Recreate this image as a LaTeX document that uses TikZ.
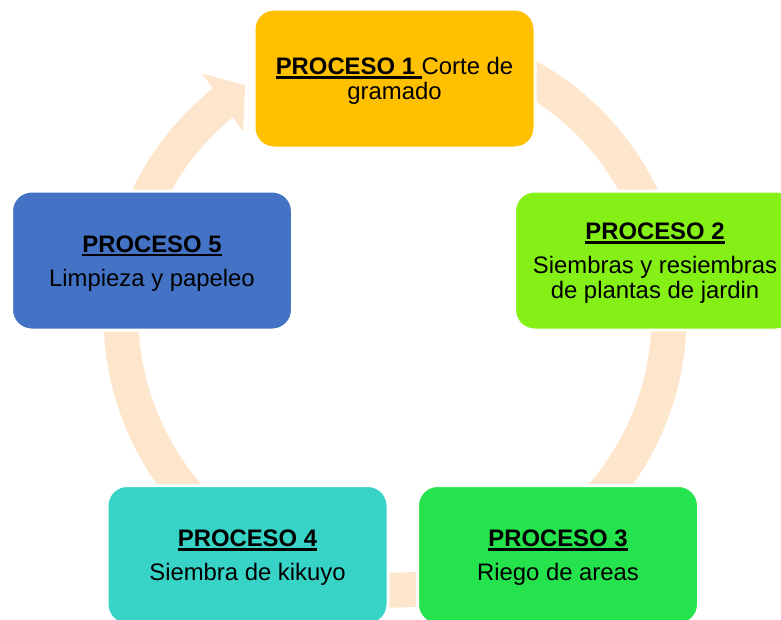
\documentclass[tikz,border=0pt]{standalone}
\usepackage{fontspec}
\setmainfont{Liberation Sans}
\usepackage{xcolor}
\usepackage{tikz}

\definecolor{ringpeach}{HTML}{FEE6CC}
\definecolor{procgold}{HTML}{FFC000}
\definecolor{proclime}{HTML}{85F016}
\definecolor{procgreen}{HTML}{24E34C}
\definecolor{procteal}{HTML}{36D3C6}
\definecolor{procblue}{HTML}{4472C4}
\newsavebox{\ulbox}
\newcommand{\procul}[1]{\rule{0pt}{17pt}\sbox\ulbox{\bfseries #1}\rlap{\rule[-3pt]{\wd\ulbox}{1.9pt}}\usebox\ulbox}

\begin{document}
\begin{tikzpicture}[x=0.75pt, y=-0.75pt,
    procbox/.style={draw=white, line width=2.25pt, rounded corners=15pt,
        minimum width=210.75pt, minimum height=104.25pt, align=center,
        font=\fontsize{17.9}{18.75}\selectfont},
    ringarc/.style={draw=ringpeach, line width=26.25pt}]
    \useasboundingbox (0,0) rectangle (781,619);
    \clip (0,0) rectangle (781,619);
    \coordinate (hub) at (395,316);
    \draw[ringarc] ([shift={(-62:274)}]hub) arc[start angle=-62, end angle=231.5, radius=274];
    \fill[ringpeach] ([shift={(231.5:310)}]hub) -- ([shift={(237:275)}]hub) -- ([shift={(230.5:239)}]hub) -- cycle;
    \node[procbox, fill=procgold] (p1) at (394.5,78.5) {\procul{PROCESO 1 }Corte de\\gramado};
    \node[procbox, fill=proclime] (p2) at (655,260.5) {\procul{PROCESO 2}\\[6.75pt]Siembras y resiembras\\de plantas de jardin};
    \node[procbox, fill=procgreen] (p3) at (558,555) {\procul{PROCESO 3}\\[6.75pt]Riego de areas};
    \node[procbox, fill=procteal] (p4) at (247.5,555) {\procul{PROCESO 4}\\[6.75pt]Siembra de kikuyo};
    \node[procbox, fill=procblue] (p5) at (152,260.5) {\procul{PROCESO 5}\\[6.75pt]Limpieza y papeleo};
\end{tikzpicture}
\end{document}
